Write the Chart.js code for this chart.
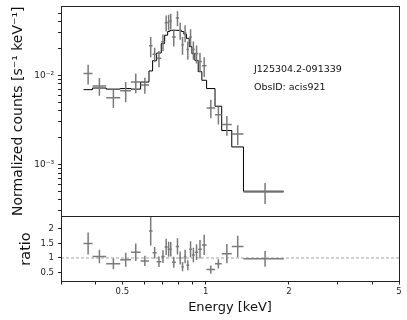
<!DOCTYPE html>
<html>
<head>
<meta charset="utf-8">
<script src="https://cdn.jsdelivr.net/npm/chart.js@4.4.1/dist/chart.umd.min.js"></script>
<style>
    html, body { margin: 0; padding: 0; background: #fff; }
    #wrap { position: relative; width: 407px; height: 320px; }
    #topBox { position: absolute; left: 0; top: 0; width: 407px; height: 217px; }
    #botBox { position: absolute; left: 0; top: 216px; width: 407px; height: 104px; }
</style>
</head>
<body>
<div id="wrap">
    <div id="topBox"><canvas id="spectrumChart"></canvas></div>
    <div id="botBox"><canvas id="ratioChart"></canvas></div>
</div>
<script>

// spectral bins (keV)
const binEdges = [0.362, 0.390, 0.437, 0.491, 0.537, 0.582, 0.624, 0.643, 0.665, 0.691, 0.711, 0.729, 0.742, 0.755, 0.780, 0.802, 0.817, 0.834, 0.852, 0.872, 0.892, 0.914, 0.940, 0.969, 1.008, 1.081, 1.143, 1.243, 1.370, 1.915];
const energy = [0.376, 0.413, 0.464, 0.514, 0.559, 0.603, 0.633, 0.654, 0.678, 0.701, 0.720, 0.735, 0.748, 0.767, 0.791, 0.809, 0.825, 0.843, 0.862, 0.882, 0.903, 0.927, 0.954, 0.988, 1.044, 1.112, 1.193, 1.306, 1.640];

// normalized counts [s^-1 keV^-1]
const counts = [0.0105, 0.0076, 0.0056, 0.0067, 0.0084, 0.0078, 0.0215, 0.0172, 0.0155, 0.0238, 0.039, 0.040, 0.041, 0.027, 0.044, 0.032, 0.022, 0.030, 0.0195, 0.027, 0.0195, 0.0176, 0.0143, 0.0128, 0.0043, 0.0036, 0.0028, 0.0022, 0.00049];
const countErr = [0.0026, 0.0017, 0.0013, 0.0017, 0.0021, 0.0016, 0.0055, 0.0032, 0.0032, 0.0050, 0.0080, 0.0080, 0.0080, 0.0060, 0.0085, 0.0070, 0.0050, 0.0065, 0.0045, 0.0060, 0.0045, 0.0040, 0.0035, 0.0032, 0.0010, 0.0008, 0.0007, 0.00055, 0.00013];
const model = [0.0069, 0.0072, 0.0070, 0.0071, 0.0070, 0.0084, 0.0112, 0.0146, 0.0178, 0.0228, 0.0282, 0.031, 0.032, 0.032, 0.032, 0.032, 0.031, 0.029, 0.026, 0.021, 0.0175, 0.0147, 0.011, 0.0088, 0.0071, 0.0045, 0.0024, 0.00157, 0.0005];

// data / model
const ratio = [1.5, 1.05, 0.8, 0.94, 1.2, 0.9, 1.93, 1.18, 0.87, 1.05, 1.38, 1.3, 1.3, 0.85, 1.4, 1.0, 0.7, 1.05, 0.75, 1.3, 1.1, 1.2, 1.3, 1.45, 0.6, 0.8, 1.15, 1.4, 0.97];
const ratioErr = [0.38, 0.23, 0.19, 0.24, 0.30, 0.18, 0.5, 0.2, 0.18, 0.22, 0.28, 0.26, 0.25, 0.19, 0.28, 0.22, 0.16, 0.23, 0.17, 0.28, 0.25, 0.27, 0.32, 0.35, 0.14, 0.16, 0.33, 0.37, 0.27];

// axis ticks
const xMajorTicks = [0.5, 1, 2, 5];
const xMajorLabels = ['0.5', '1', '2', '5'];
const xMinorTicks = [0.3, 0.4, 0.6, 0.7, 0.8, 0.9, 3, 4];
const yMajorTicks = [0.001, 0.01];
const yMajorLabels = ['10\u207B\u00B3', '10\u207B\u00B2'];
const yMinorTicks = [0.0003, 0.0004, 0.0005, 0.0006, 0.0007, 0.0008, 0.0009, 0.002, 0.003, 0.004, 0.005, 0.006, 0.007, 0.008, 0.009, 0.02, 0.03, 0.04, 0.05];
const ratioTicks = [0.5, 1, 1.5, 2];
const ratioLabels = ['0.5', '1', '1.5', '2'];

const infoLines = ['J125304.2-091339', 'ObsID: acis921'];

const FONT = 'DejaVu Sans';
const BAR_COLOR = '#7a7a7a';
const AXIS_COLOR = '#222';


function crossPoints(values, errors) {

    const pts = [];

    values.forEach((v, i) => {
        pts.push({ x: binEdges[i], y: v });
        pts.push({ x: binEdges[i + 1], y: v });
        pts.push({ x: energy[i], y: null });
        pts.push({ x: energy[i], y: v - errors[i] });
        pts.push({ x: energy[i], y: v + errors[i] });
        pts.push({ x: energy[i], y: null });
    });

    return pts;

}

function labelFor(list, labels, value) {

    const i = list.findIndex(t => Math.abs(t - value) / t < 1e-6);

    return i >= 0 ? labels[i] : '';

}

// keep the plot boxes where matplotlib put them
function fixedWidth(scale) {
    scale.width = 61;
    scale.paddingTop = 0;
    scale.paddingBottom = 0;
}

function fixedHeight(scale) {
    scale.height = 38.5;
    scale.paddingLeft = 0;
    scale.paddingRight = 0;
}

const framePlugin = {

    id: 'frame',

    afterDraw(chart) {

        const { ctx, chartArea: a } = chart;

        const l = Math.floor(a.left) + 0.5;
        const r = Math.floor(a.right) + 0.5;
        const t = Math.floor(a.top) + 0.5;
        const b = Math.floor(a.bottom) + 0.5;

        ctx.save();
        ctx.strokeStyle = AXIS_COLOR;
        ctx.lineWidth = 1;
        ctx.strokeRect(l, t, r - l, b - t);
        ctx.restore();

    }

};

const infoPlugin = {

    id: 'info',

    afterDraw(chart) {

        const { ctx, chartArea: a } = chart;

        ctx.save();
        ctx.fillStyle = '#111';
        ctx.font = '9.5px "' + FONT + '"';
        ctx.textBaseline = 'middle';
        ctx.textAlign = 'left';

        const x = a.left + 0.571 * (a.right - a.left);

        ctx.fillText(infoLines[0], x, a.top + 0.30 * (a.bottom - a.top));
        ctx.fillText(infoLines[1], x, a.top + 0.385 * (a.bottom - a.top));

        ctx.restore();

    }

};

const barStyle = {
    borderColor: BAR_COLOR,
    borderWidth: 1.5,
    pointRadius: 0,
    spanGaps: false,
    fill: false,
    tension: 0,
};

const stepPoints = binEdges.map((e, i) => ({
    x: e,
    y: model[Math.min(i, model.length - 1)]
}));

new Chart(document.getElementById('spectrumChart'), {

    type: 'line',

    data: {

        datasets: [
            {
                label: 'data',
                data: crossPoints(counts, countErr),
                ...barStyle,
            },
            {
                label: 'model',
                data: stepPoints,
                borderColor: '#000',
                borderWidth: 1,
                pointRadius: 0,
                stepped: true,
                fill: false,
            }
        ]

    },

    options: {

        responsive: true,
        maintainAspectRatio: false,
        devicePixelRatio: 1,
        animation: false,

        layout: {
            padding: { top: 6, right: 8, bottom: 0.5, left: 0 }
        },

        plugins: {
            legend: { display: false },
            tooltip: { enabled: false },
        },

        scales: {

            x: {
                type: 'logarithmic',
                min: 0.3,
                max: 5,
                display: false,
            },

            y: {
                type: 'logarithmic',
                min: 0.00026,
                max: 0.06,
                afterFit: fixedWidth,
                afterBuildTicks(scale) {
                    scale.ticks = yMajorTicks.concat(yMinorTicks).map(v => ({ value: v }));
                },
                border: { display: false },
                grid: {
                    drawOnChartArea: false,
                    drawTicks: true,
                    tickLength: 3,
                    tickColor: AXIS_COLOR,
                },
                ticks: {
                    autoSkip: false,
                    padding: 4,
                    color: AXIS_COLOR,
                    font: { family: FONT, size: 9 },
                    callback: v => labelFor(yMajorTicks, yMajorLabels, v),
                },
                title: {
                    display: true,
                    text: 'Normalized counts [s\u207B\u00B9 keV\u207B\u00B9]',
                    color: '#111',
                    font: { family: FONT, size: 14 },
                    padding: { top: 10, bottom: 0 },
                }
            }

        }

    },

    plugins: [framePlugin, infoPlugin]

});

new Chart(document.getElementById('ratioChart'), {

    type: 'line',

    data: {

        datasets: [
            {
                label: 'ratio',
                data: crossPoints(ratio, ratioErr),
                ...barStyle,
            },
            {
                label: 'unity',
                data: [{ x: 0.3, y: 1 }, { x: 5, y: 1 }],
                borderColor: '#8a8a8a',
                borderWidth: 0.8,
                borderDash: [3, 2],
                pointRadius: 0,
                fill: false,
            }
        ]

    },

    options: {

        responsive: true,
        maintainAspectRatio: false,
        devicePixelRatio: 1,
        animation: false,

        layout: {
            padding: { top: 0.5, right: 8, bottom: 0, left: 0 }
        },

        plugins: {
            legend: { display: false },
            tooltip: { enabled: false },
        },

        scales: {

            x: {
                type: 'logarithmic',
                min: 0.3,
                max: 5,
                afterFit: fixedHeight,
                afterBuildTicks(scale) {
                    scale.ticks = xMajorTicks.concat(xMinorTicks).map(v => ({ value: v }));
                },
                border: { display: false },
                grid: {
                    drawOnChartArea: false,
                    drawTicks: true,
                    tickLength: 3,
                    tickColor: AXIS_COLOR,
                },
                ticks: {
                    autoSkip: false,
                    maxRotation: 0,
                    padding: 2,
                    color: AXIS_COLOR,
                    font: { family: FONT, size: 8.5 },
                    callback: v => labelFor(xMajorTicks, xMajorLabels, v),
                },
                title: {
                    display: true,
                    text: 'Energy [keV]',
                    color: '#111',
                    font: { family: FONT, size: 13 },
                    padding: { top: 0, bottom: 4.5 },
                }
            },

            y: {
                min: 0.19,
                max: 2.43,
                afterFit: fixedWidth,
                afterBuildTicks(scale) {
                    scale.ticks = ratioTicks.map(v => ({ value: v }));
                },
                border: { display: false },
                grid: {
                    drawOnChartArea: false,
                    drawTicks: true,
                    tickLength: 3,
                    tickColor: AXIS_COLOR,
                },
                ticks: {
                    autoSkip: false,
                    padding: 4,
                    color: AXIS_COLOR,
                    font: { family: FONT, size: 8.5 },
                    callback: v => labelFor(ratioTicks, ratioLabels, v),
                },
                title: {
                    display: true,
                    text: 'ratio',
                    color: '#111',
                    font: { family: FONT, size: 14.5 },
                    padding: { top: 18, bottom: 0 },
                }
            }

        }

    },

    plugins: [framePlugin]

});

</script>
</body>
</html>
